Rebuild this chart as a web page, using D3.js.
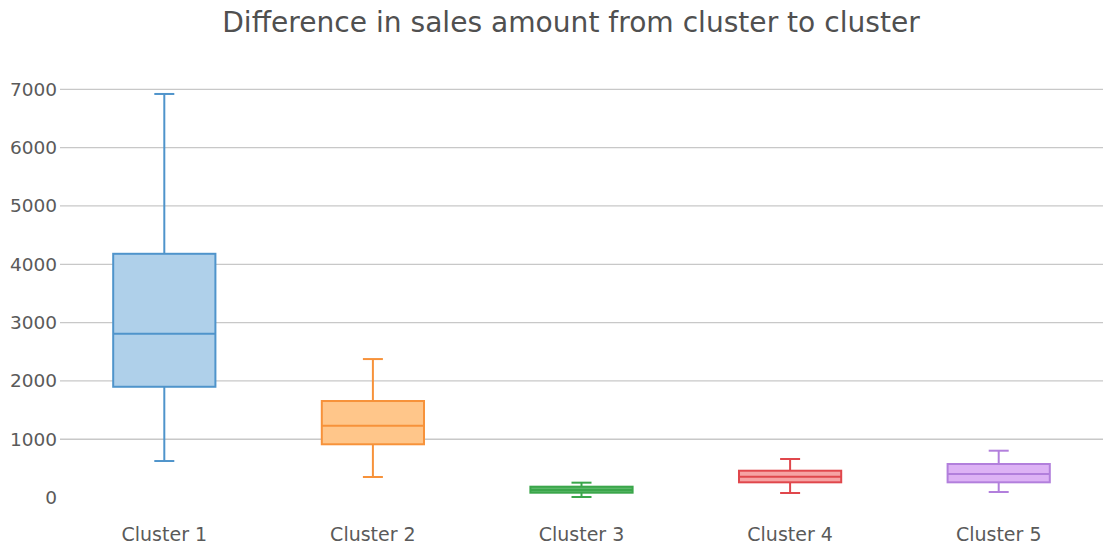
<!DOCTYPE html>
<html>
<head>
<meta charset="utf-8">
<script src="https://cdn.jsdelivr.net/npm/d3@7"></script>
<style>
  html, body { margin: 0; padding: 0; background: #fff; }
  svg { display: block; }
</style>
</head>
<body>
<svg id="chart" width="1111" height="547"></svg>
<script>
// Box plot summary statistics per cluster
const categories = ["Cluster 1", "Cluster 2", "Cluster 3", "Cluster 4", "Cluster 5"];
const lowerFence = [627, 353, 10, 79, 96];
const q1 = [1900, 914, 84, 262, 262];
const median = [2810, 1233, 130, 358, 405];
const q3 = [4180, 1656, 187, 461, 576];
const upperFence = [6920, 2375, 256, 662, 804];
const yTicks = [0, 1000, 2000, 3000, 4000, 5000, 6000, 7000];

const lineColors = ["#4f94cb", "#f7923a", "#3aa64a", "#e0474c", "#b27fdc"];
const fillColors = ["#afd0ea", "#ffc68a", "#5cb86a", "#f6a3a3", "#ddb2f5"];

const FONT = "'DejaVu Sans', Verdana, sans-serif";
const svg = d3.select("#chart");
const plotLeft = 60, plotRight = 1103, plotTop = 89.3, plotBottom = 497.6;

const x = d3.scaleBand().domain(categories).range([plotLeft, plotRight]).padding(0);
const y = d3.scaleLinear().domain([0, 7000]).range([plotBottom, plotTop]);

// Title, sized to span 698px
const title = svg.append("text")
  .attr("x", 571).attr("y", 31.5)
  .attr("text-anchor", "middle")
  .attr("font-family", FONT)
  .attr("font-size", 26)
  .attr("fill", "#505050")
  .text("Difference in sales amount from cluster to cluster");
const tw = title.node().getComputedTextLength();
title.attr("font-size", 26 * 698 / tw);

// Horizontal grid lines
svg.append("g").selectAll("line")
  .data(yTicks.filter(d => d > 0))
  .join("line")
  .attr("x1", plotLeft).attr("x2", plotRight)
  .attr("y1", d => y(d)).attr("y2", d => y(d))
  .attr("stroke", "#c8c8c8").attr("stroke-width", 1.3);

// Y axis tick labels
const yAxis = d3.axisLeft(y).tickValues(yTicks).tickSize(0).tickPadding(3).tickFormat(d3.format("d"));
const gy = svg.append("g").attr("transform", `translate(${plotLeft},0)`).call(yAxis);
gy.select(".domain").remove();
gy.selectAll("text")
  .attr("font-family", FONT)
  .attr("font-size", 18.5)
  .attr("fill", "#5a5a5a");

// X axis category labels
const xAxis = d3.axisBottom(x).tickSize(0).tickPadding(0);
const gx = svg.append("g").attr("transform", `translate(0,${plotBottom})`).call(xAxis);
gx.select(".domain").remove();
gx.selectAll("text")
  .attr("font-family", FONT)
  .attr("font-size", 19)
  .attr("fill", "#5a5a5a")
  .attr("dy", null)
  .attr("y", 43.5);

// Boxes
const boxW = x.bandwidth() * 0.49;
const capW = 20;
const data = categories.map((c, i) => ({
  c, i, lo: lowerFence[i], q1: q1[i], med: median[i], q3: q3[i], hi: upperFence[i]
}));

const g = svg.append("g").selectAll("g").data(data).join("g");
const cx = d => x(d.c) + x.bandwidth() / 2;

// Whiskers
g.append("line")
  .attr("x1", cx).attr("x2", cx)
  .attr("y1", d => y(d.hi)).attr("y2", d => y(d.q3))
  .attr("stroke", d => lineColors[d.i]).attr("stroke-width", 2);
g.append("line")
  .attr("x1", cx).attr("x2", cx)
  .attr("y1", d => y(d.q1)).attr("y2", d => y(d.lo))
  .attr("stroke", d => lineColors[d.i]).attr("stroke-width", 2);
// Caps
g.append("line")
  .attr("x1", d => cx(d) - capW / 2).attr("x2", d => cx(d) + capW / 2)
  .attr("y1", d => y(d.hi)).attr("y2", d => y(d.hi))
  .attr("stroke", d => lineColors[d.i]).attr("stroke-width", 2);
g.append("line")
  .attr("x1", d => cx(d) - capW / 2).attr("x2", d => cx(d) + capW / 2)
  .attr("y1", d => y(d.lo)).attr("y2", d => y(d.lo))
  .attr("stroke", d => lineColors[d.i]).attr("stroke-width", 2);
// Box body
g.append("rect")
  .attr("x", d => cx(d) - boxW / 2)
  .attr("width", boxW)
  .attr("y", d => y(d.q3))
  .attr("height", d => y(d.q1) - y(d.q3))
  .attr("fill", d => fillColors[d.i])
  .attr("stroke", d => lineColors[d.i]).attr("stroke-width", 2);
// Median
g.append("line")
  .attr("x1", d => cx(d) - boxW / 2).attr("x2", d => cx(d) + boxW / 2)
  .attr("y1", d => y(d.med)).attr("y2", d => y(d.med))
  .attr("stroke", d => lineColors[d.i]).attr("stroke-width", 2);
</script>
</body>
</html>
